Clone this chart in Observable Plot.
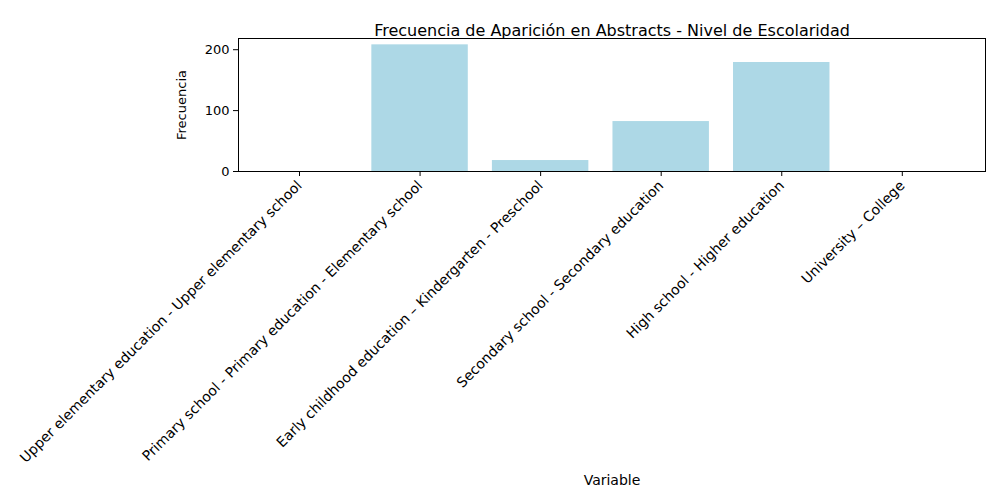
<!DOCTYPE html>
<html><head>
<script src="https://cdn.jsdelivr.net/npm/d3@7"></script>
<script src="https://cdn.jsdelivr.net/npm/@observablehq/plot@0.6"></script>
<style>body{margin:0;background:#fff}svg{font-family:"DejaVu Sans",sans-serif}</style>
</head><body><div id="c"></div>
<script>
const categories = [
  "Upper elementary education - Upper elementary school",
  "Primary school - Primary education - Elementary school",
  "Early childhood education – Kindergarten - Preschool",
  "Secondary school - Secondary education",
  "High school - Higher education",
  "University – College"
];
const values = [0, 208, 18, 82, 179, 0];
const data = categories.map((c, i) => ({c, i, v: values[i]}));
const plot = Plot.plot({
  width: 1000, height: 500,
  marginLeft: 238, marginRight: 15, marginTop: 38, marginBottom: 329,
  style: {fontSize: "13px", fontFamily: "DejaVu Sans"},
  x: {domain: [-0.506, 5.69], ticks: d3.range(6), tickFormat: i => categories[i], tickRotate: -45, label: "Variable", labelArrow: "none", labelAnchor: "center", labelOffset: 313, tickSize: 5, fontSize: 14},
  y: {domain: [0, 218.4], ticks: [0, 100, 200], label: "Frecuencia", labelArrow: "none", labelAnchor: "center", labelOffset: 62, tickSize: 5},
  marks: [
    Plot.rect(data, {x1: d => d.i - 0.4, x2: d => d.i + 0.4, y1: 0, y2: "v", fill: "#add8e6"}),
    Plot.frame({stroke: "black"}),
    Plot.axisX({ticks: d3.range(6), tickFormat: i => categories[i], tickRotate: -45, tickSize: 5, fontSize: 14, label: "Variable", labelArrow: "none", labelAnchor: "center", labelOffset: 313}),
    Plot.text(["Frecuencia de Aparición en Abstracts - Nivel de Escolaridad"], {frameAnchor: "top", dy: -14, fontSize: 16, fill: "black"})
  ]
});
document.getElementById("c").append(plot);
</script></body></html>
